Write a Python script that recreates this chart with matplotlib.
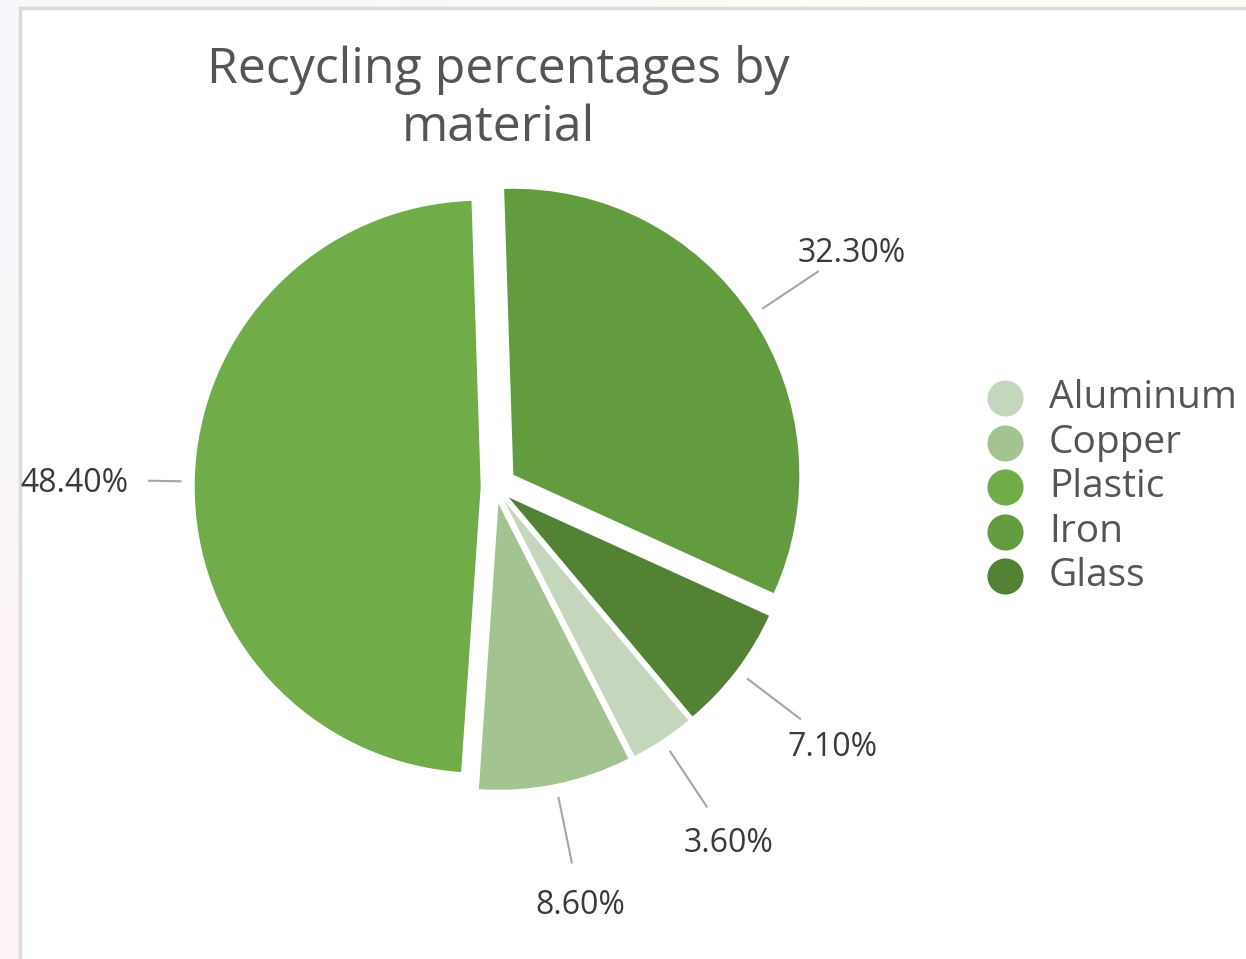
import numpy as np
import matplotlib.pyplot as plt
from matplotlib.patches import Rectangle

plt.rcParams['font.family'] = ['Open Sans', 'DejaVu Sans']

# slice data, in drawing order (clockwise)
materials = ["Aluminum", "Copper", "Plastic", "Iron", "Glass"]
percentages = [3.6, 8.6, 48.4, 32.3, 7.1]
colors = ["#c4d7bd", "#a3c491", "#70ac47", "#639b3f", "#548235"]
explode = [0.06, 0.06, 0.05, 0.077, 0.06]

W, H = 1246, 959
fig = plt.figure(figsize=(W / 100, H / 100), dpi=100)

# page backdrop + card, in pixel coords
bg = fig.add_axes([0, 0, 1, 1], zorder=-2)
bg.set_xlim(0, W)
bg.set_ylim(H, 0)
bg.axis("off")
grad = np.array([[[0.965, 0.975, 0.985], [1.0, 0.992, 0.955]],
                 [[0.995, 0.955, 0.970], [1.0, 0.985, 0.985]]])
bg.imshow(grad, extent=(0, W, H, 0), interpolation="bilinear", aspect="auto")
bg.add_patch(Rectangle((20, 8), W + 20, H + 20, facecolor="white",
                       edgecolor="#dadada", linewidth=2.5))

# pie: 1 data unit = 286 px, centre at (495, 487) px
R = 286
L = 1.6
cx, cy = 495, H - 487
ax = fig.add_axes([(cx - L * R) / W, (cy - L * R) / H, 2 * L * R / W, 2 * L * R / H])

wedges, _ = ax.pie(percentages, colors=colors, explode=explode, startangle=-50,
                   counterclock=False, radius=1.0,
                   wedgeprops=dict(linewidth=0))
ax.set_xlim(-L, L)
ax.set_ylim(-L, L)
ax.axis("off")

for w, pct, ex in zip(wedges, percentages, explode):
    mid = np.deg2rad((w.theta1 + w.theta2) / 2)
    d = np.array([np.cos(mid), np.sin(mid)])
    base = ex * d
    r_end = 1.16 if abs(d[0]) > 0.95 else 1.28
    p0 = base + 1.05 * d
    p1 = base + r_end * d
    ax.plot([p0[0], p1[0]], [p0[1], p1[1]], color="#a6a6a6", linewidth=1.5)
    pt = base + 1.42 * d
    ax.text(pt[0], pt[1], f"{pct:.2f}%", ha="center", va="center_baseline",
            fontsize=23, color="#3a3a3a")

# title
fig.text(498 / W, 1 - 83 / H, "Recycling percentages by", ha="center",
         va="baseline", fontsize=36, color="#555555")
fig.text(498 / W, 1 - 141 / H, "material", ha="center",
         va="baseline", fontsize=36, color="#555555")

# legend
for i, (name, c) in enumerate(zip(materials, colors)):
    y = 398 + i * 44.5
    bg.scatter([1005], [y], s=(26) ** 2, color=c, linewidths=0, zorder=3)
    bg.text(1049, y, name, ha="left", va="center", fontsize=28,
            color="#555555", zorder=3)

fig.savefig("out.png", dpi=100)
